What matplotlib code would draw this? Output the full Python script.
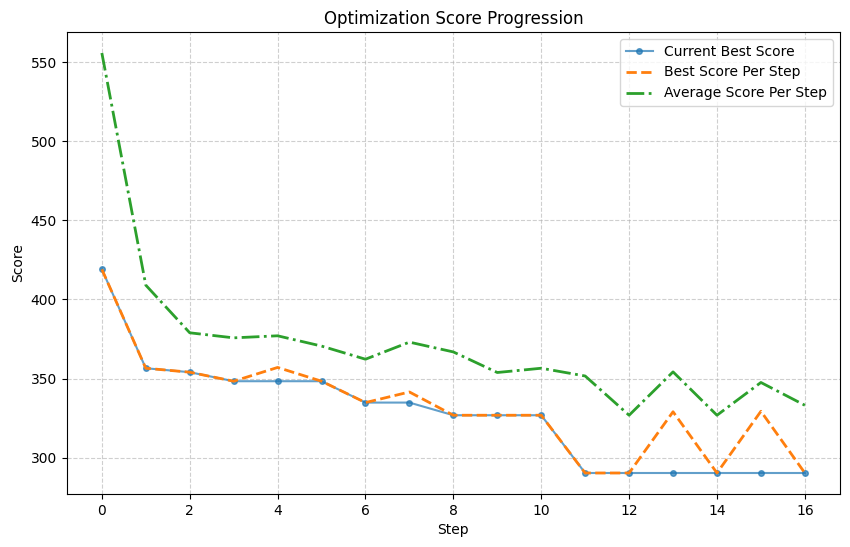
import matplotlib
matplotlib.use("Agg")
import matplotlib.pyplot as plt

steps = list(range(17))
current_best = [419, 356.5, 354, 348.3, 348.3, 348.3, 334.8, 334.8, 326.8, 326.8, 326.8,
                290.3, 290.3, 290.3, 290.3, 290.3, 290.3]
best_per_step = [419, 356.5, 354, 348.3, 357, 348.3, 334.8, 341.5, 326.8, 326.8, 326.8,
                 290.3, 290.3, 329, 290.3, 329.3, 290.3]
avg_per_step = [555.7, 409, 378.9, 375.7, 377, 370.5, 362.2, 373, 366.8, 353.8, 356.5,
                351.6, 326.8, 354.2, 326.8, 347.5, 333.1]

fig = plt.figure(figsize=(8.5, 5.47), dpi=100)
ax = fig.add_axes([66.7/850, 1-494/547, (840-66.7)/850, (494-32)/547])
ax.plot(steps, current_best, marker='o', markersize=4, linewidth=1.5, alpha=0.7,
        color='#1f77b4', label='Current Best Score')
ax.plot(steps, best_per_step, linestyle='--', linewidth=2, color='#ff7f0e',
        label='Best Score Per Step')
ax.plot(steps, avg_per_step, linestyle='-.', linewidth=2, color='#2ca02c',
        label='Average Score Per Step')
ax.set_title('Optimization Score Progression', fontsize=12)
ax.set_xlabel('Step')
ax.set_ylabel('Score')
ax.grid(True, linestyle='--', alpha=0.6)
ax.legend(loc='upper right')
fig.savefig('out.png', dpi=100)
